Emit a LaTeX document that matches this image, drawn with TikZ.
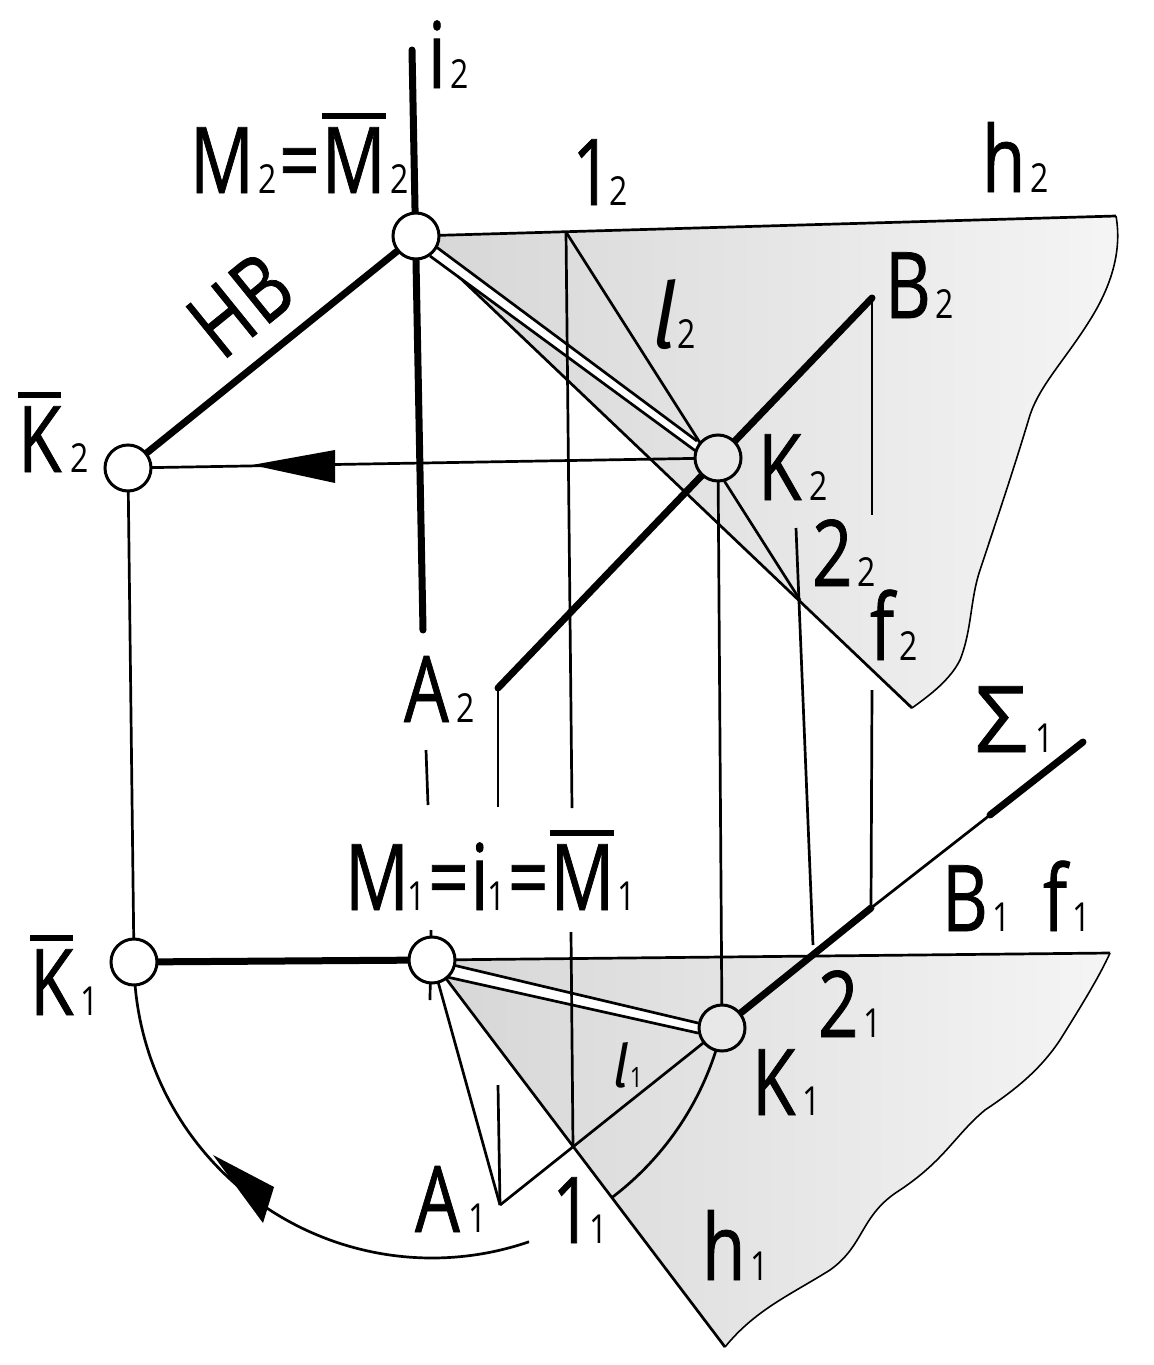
\documentclass[tikz,border=0pt]{standalone}
\usepackage{fontspec}
\usetikzlibrary{calc}
\newfontfamily\bigf[FakeStretch=0.77,FakeBold=0.8]{Open Sans}
\newfontfamily\sigf[FakeStretch=1.0,FakeBold=0.8]{Open Sans}
\newfontfamily\subf[FakeStretch=0.8]{Open Sans}
\newfontfamily\lf[FakeSlant=0.18,FakeStretch=0.9]{Fira Sans}
\newcommand\Bg[1]{{\fontsize{46}{46}\bigf #1}}
\newcommand\Sb[1]{{\fontsize{20}{20}\subf\kern2.5pt #1}}
\newcommand\Eqs{\kern1pt\Bg{=}\kern1pt}
\newcommand\Br[1]{\leavevmode\setbox0\hbox{\Bg{#1}}\rlap{\raisebox{37pt}{\rule{\wd0}{3pt}}}\box0}
\definecolor{gdark}{gray}{0.84}
\definecolor{gmid}{gray}{0.91}
\definecolor{glight}{gray}{0.96}
\definecolor{kfill}{gray}{0.91}
\tikzset{
  thinl/.style={line width=1.35pt},
  thickl/.style={line width=3.5pt,line cap=round},
  wavel/.style={line width=0.8pt},
  pt/.style={circle,draw,line width=1.5pt,fill=white,minimum size=23pt,inner sep=0pt},
  ptk/.style={pt,fill=kfill},
  lab/.style={anchor=base west,inner sep=0pt,outer sep=0pt},
  plane/.style={left color=gdark,middle color=gmid,right color=glight},
}
\begin{document}
\begin{tikzpicture}[x=0.5pt,y=-0.5pt]
\useasboundingbox (0,0) rectangle (1153,1365);
% named points
\coordinate (M2) at (416,236);
\coordinate (K2b) at (128,468);
\coordinate (K2) at (718,458);
\coordinate (K1b) at (134,962);
\coordinate (M1) at (432,960);
\coordinate (K1) at (722,1028);
\coordinate (A2) at (498,688);
\coordinate (B2) at (872,298);
\coordinate (A1) at (500,1205);
\coordinate (P12) at (566,232);
\coordinate (P22) at (800,600);
\coordinate (P11) at (573,1147);
\coordinate (P21) at (813,945);
\coordinate (H2r) at (1116,216);
\coordinate (H2e) at (912,708);
\coordinate (H1r) at (1110,953);
\coordinate (H1e) at (725,1347);
\coordinate (Se) at (1083,742);
\coordinate (St) at (990,815);
\coordinate (Bo) at (871,908);
% planes
\shade[plane] (M2) -- (H2r)
  .. controls (1122,250) and (1112,285) .. (1090,320)
  .. controls (1065,360) and (1040,385) .. (1030,415)
  .. controls (1015,465) and (1000,510) .. (980,570)
  .. controls (970,600) and (972,630) .. (960,660)
  .. controls (950,680) and (930,695) .. (H2e) -- cycle;
\shade[plane] (M1) -- (H1r)
  .. controls (1100,975) and (1085,1000) .. (1060,1040)
  .. controls (1040,1070) and (1015,1090) .. (985,1110)
  .. controls (955,1135) and (945,1160) .. (900,1190)
  .. controls (860,1215) and (865,1245) .. (830,1270)
  .. controls (790,1295) and (755,1310) .. (H1e) -- cycle;
% plane outlines
\draw[thinl] (M2) -- (H2r);
\draw[wavel] (H2r)
  .. controls (1122,250) and (1112,285) .. (1090,320)
  .. controls (1065,360) and (1040,385) .. (1030,415)
  .. controls (1015,465) and (1000,510) .. (980,570)
  .. controls (970,600) and (972,630) .. (960,660)
  .. controls (950,680) and (930,695) .. (H2e);
\draw[thinl] (H2e) -- (M2);
\draw[thinl] (M1) -- (H1r);
\draw[wavel] (H1r)
  .. controls (1100,975) and (1085,1000) .. (1060,1040)
  .. controls (1040,1070) and (1015,1090) .. (985,1110)
  .. controls (955,1135) and (945,1160) .. (900,1190)
  .. controls (860,1215) and (865,1245) .. (830,1270)
  .. controls (790,1295) and (755,1310) .. (H1e);
\draw[thinl] (H1e) -- (M1);
% double lines
\coordinate (d1) at (435,246); \coordinate (d2) at (697,441);
\coordinate (d3) at (697,452); \coordinate (d4) at (430,256);
\fill[white] (d1) -- (d2) -- (d3) -- (d4) -- cycle;
\draw[thinl] (d1) -- (d2) (d4) -- (d3);
\coordinate (e1) at (453,965); \coordinate (e2) at (698,1023);
\coordinate (e3) at (698,1033); \coordinate (e4) at (447,977);
\fill[white] (e1) -- (e2) -- (e3) -- (e4) -- cycle;
\draw[thinl] (e1) -- (e2) (e4) -- (e3);
% axis
\coordinate (it) at (412,50); \coordinate (ib) at (423,630);
\draw[thickl] (it) -- (ib);
% ordinates
\draw[thinl] (K2b) -- (K1b);
\draw[thinl] (K2) -- (K1);
\draw[thinl] (K2b) -- (K2);
\draw[thinl] (P12) -- (P22);
\coordinate (v1) at (572,808); \draw[thinl] (P12) -- (v1);
\coordinate (v2) at (571,932); \draw[thinl] (v2) -- (P11);
\coordinate (v3) at (498,807); \draw[thinl] (A2) -- (v3);
\coordinate (v4) at (498,1085); \draw[thinl] (v4) -- (A1);
\coordinate (v5) at (872,515); \draw[thinl] (B2) -- (v5);
\coordinate (v6) at (872,690); \draw[thinl] (v6) -- (Bo);
\coordinate (v7) at (796,528); \draw[thinl] (v7) -- (P21);
\coordinate (c1) at (426,750); \coordinate (c2) at (428,805); \draw[thinl] (c1) -- (c2);
\coordinate (c3) at (431,930); \coordinate (c4) at (430,1000); \draw[thinl] (c3) -- (c4);
% piercing line
\draw[thickl] (A2) -- (B2);
\draw[thickl] (Se) -- (St);
\draw[thinl] (St) -- (Bo);
\draw[thickl] (Bo) -- (K1);
\draw[thinl] (K1) -- (A1);
\draw[thinl] (M1) -- (A1);
\draw[thickl] (M2) -- (K2b);
\draw[thickl] (K1b) -- (M1);
% arcs
\draw[thinl,domain=175:71,samples=60,smooth] plot ({432+298*cos(\x)},{960+298*sin(\x)});
\draw[thinl,domain=14:53,samples=30,smooth] plot ({432+298*cos(\x)},{960+298*sin(\x)});
% arrowheads
\coordinate (a1) at (252,465); \coordinate (a2) at (335,450); \coordinate (a3) at (335,483);
\fill (a1) -- (a2) -- (a3) -- cycle;
\coordinate (b1) at (213,1155); \coordinate (b2) at (274,1187); \coordinate (b3) at (263,1223);
\fill (b1) -- (b2) -- (b3) -- cycle;
% points
\node[pt] (nM2) at (M2) {};
\node[pt] (nK2b) at (K2b) {};
\node[ptk] (nK2) at (K2) {};
\node[pt] (nK1b) at (K1b) {};
\node[pt] (nM1) at (M1) {};
\node[ptk] (nK1) at (K1) {};
% labels
\node[lab] (t1) at (428,88) {\Bg{i}\Sb{2}};
\node[lab] (t2) at (190,193) {\Bg{M}\Sb{2}\Eqs\Br{M}\Sb{2}};
\node[lab] (t3) at (572,205) {\Bg{1}\kern-4pt\Sb{2}};
\node[lab] (t4) at (982,192) {\Bg{h}\Sb{2}};
\node[lab] (t5) at (648,348) {{\fontsize{46}{46}\lf l}\Sb{2}};
\node[lab] (t6) at (885,318) {\Bg{B}\Sb{2}};
\node[lab,rotate=39] (t7) at (222,362) {\Bg{H\kern1pt B}};
\node[lab] (t8) at (18,472) {\Br{K}\kern2pt\Sb{2}};
\node[lab] (t9) at (758,500) {\Bg{K}\kern1.5pt\Sb{2}};
\node[lab] (t10) at (812,586) {\Bg{2}\Sb{2}};
\node[lab] (t11) at (870,660) {\Bg{f}\Sb{2}};
\node[lab] (t12) at (404,722) {\Bg{A}\kern1.5pt\Sb{2}};
\node[lab] (t13) at (975,752) {{\fontsize{46}{46}\sigf Σ}\kern1.5pt\Sb{1}};
\node[lab] (t14) at (345,910) {\Bg{M}\kern-3pt\Sb{1}\Eqs\Bg{i}\kern-3pt\Sb{1}\Eqs\Br{M}\kern-1pt\Sb{1}};
\node[lab] (t15) at (942,931) {\Bg{B}\Sb{1}};
\node[lab] (t16) at (1043,931) {\Bg{f}\Sb{1}};
\node[lab] (t17) at (30,1015) {\Br{K}\kern1pt\Sb{1}};
\node[lab] (t18) at (818,1037) {\Bg{2}\Sb{1}};
\node[lab] (t19) at (610,1087) {{\fontsize{30}{30}\lf l}{\fontsize{14}{14}\subf\kern2pt 1}};
\node[lab] (t20) at (752,1115) {\Bg{K}\kern1pt\Sb{1}};
\node[lab] (t21) at (415,1232) {\Bg{A}\kern2pt\Sb{1}};
\node[lab] (t22) at (552,1243) {\Bg{1}\kern-4pt\Sb{1}};
\node[lab] (t23) at (702,1280) {\Bg{h}\Sb{1}};
\end{tikzpicture}
\end{document}
